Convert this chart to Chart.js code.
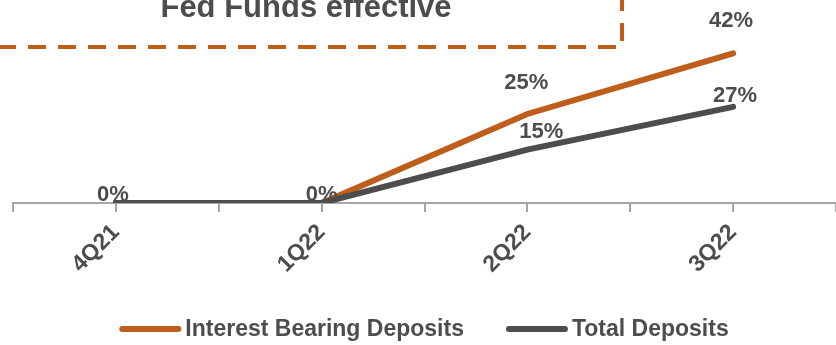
<!DOCTYPE html>
<html>
<head>
<meta charset="utf-8">
<script src="https://cdn.jsdelivr.net/npm/chart.js@4/dist/chart.umd.min.js"></script>
<style>
  html, body { margin: 0; padding: 0; background: #fff; }
  #wrap { width: 836px; height: 345px; }
</style>
</head>
<body>
<div id="wrap"><canvas id="deposit-chart"></canvas></div>
<script>
// data
var quarters = ["4Q21", "1Q22", "2Q22", "3Q22"];
var interestBearing = [0, 0, 25, 42];
var totalDeposits = [0, 0, 15, 27];
var seriesNames = ["Interest Bearing Deposits", "Total Deposits"];
var calloutText = "Fed Funds effective";

var ORANGE = "#bf5e1b";
var GREY = "#4d4d4f";
var AXIS = "#a6a6a6";
var FONT = "'Liberation Sans', Arial, sans-serif";

// value labels drawn next to the points
var valueLabels = {
    id: "valueLabels",
    afterDatasetsDraw: function (chart, args, opts) {
        var ctx = chart.ctx;
        ctx.save();
        ctx.font = "bold 22px " + FONT;
        ctx.fillStyle = GREY;
        ctx.textAlign = "center";
        ctx.textBaseline = "alphabetic";
        chart.data.datasets.forEach(function (ds, di) {
            var meta = chart.getDatasetMeta(di);
            var place = opts.place[di];
            meta.data.forEach(function (pt, i) {
                var p = place[i];
                if (!p) return;
                ctx.fillText(ds.data[i] + "%", pt.x + p[0], pt.y + p[1]);
            });
        });
        ctx.restore();
    }
};

// legend drawn by hand: the built-in one can't do the small box/text gap
var lineLegend = {
    id: "lineLegend",
    afterDraw: function (chart) {
        var ctx = chart.ctx;
        var boxW = 62, gap = 4, spacing = 42, y = 329;
        ctx.save();
        ctx.font = "bold 23px " + FONT;
        ctx.textBaseline = "middle";
        ctx.textAlign = "left";
        var items = chart.data.datasets.map(function (ds) {
            return { text: ds.label, color: ds.borderColor, w: ctx.measureText(ds.label).width };
        });
        var total = 0;
        items.forEach(function (it, i) {
            total += boxW + gap + it.w + (i > 0 ? spacing : 0);
        });
        var x = (chart.width - total) / 2 + 6;
        items.forEach(function (it) {
            ctx.strokeStyle = it.color;
            ctx.lineWidth = 6;
            ctx.lineCap = "round";
            ctx.beginPath();
            ctx.moveTo(x + 3, y);
            ctx.lineTo(x + boxW - 3, y);
            ctx.stroke();
            ctx.fillStyle = GREY;
            ctx.fillText(it.text, x + boxW + gap, y + 1);
            x += boxW + gap + it.w + spacing;
        });
        ctx.restore();
    }
};

// ticks at the category centres + the dashed "Fed Funds" callout
var extras = {
    id: "extras",
    afterDraw: function (chart) {
        var ctx = chart.ctx;
        var x = chart.scales.x;
        ctx.save();
        ctx.strokeStyle = AXIS;
        ctx.lineWidth = 2;
        for (var i = 0; i < quarters.length; i++) {
            var px = Math.round(x.getPixelForValue(i));
            ctx.beginPath();
            ctx.moveTo(px, x.top);
            ctx.lineTo(px, x.top + 9);
            ctx.stroke();
        }

        ctx.strokeStyle = ORANGE;
        ctx.lineWidth = 4;
        ctx.setLineDash([18, 12]);
        ctx.lineJoin = "round";
        ctx.beginPath();
        ctx.moveTo(-2, 47);
        ctx.lineTo(622, 47);
        ctx.lineTo(622, -23);
        ctx.stroke();
        ctx.setLineDash([]);

        ctx.fillStyle = GREY;
        ctx.font = "bold 31px " + FONT;
        ctx.textAlign = "center";
        ctx.textBaseline = "alphabetic";
        ctx.fillText(calloutText, 306, 17);
        ctx.restore();
    }
};

var ctx = document.getElementById("deposit-chart").getContext("2d");
var chart = new Chart(ctx, {
    type: "line",
    data: {
        labels: quarters,
        datasets: [{
            label: seriesNames[0],
            data: interestBearing,
            borderColor: ORANGE,
            backgroundColor: ORANGE,
            borderWidth: 6,
            borderCapStyle: "round",
            pointRadius: 0,
            tension: 0,
            order: 1
        }, {
            label: seriesNames[1],
            data: totalDeposits,
            borderColor: GREY,
            backgroundColor: GREY,
            borderWidth: 6,
            borderCapStyle: "round",
            pointRadius: 0,
            tension: 0,
            order: 0
        }]
    },
    options: {
        responsive: true,
        maintainAspectRatio: false,
        animation: false,
        layout: { padding: { left: 13, right: 0, top: 0, bottom: 34 } },
        scales: {
            x: {
                type: "category",
                offset: true,
                afterFit: function (scale) { scale.height = 108; },
                grid: {
                    display: true,
                    offset: true,
                    drawOnChartArea: false,
                    drawTicks: true,
                    tickLength: 9,
                    color: AXIS,
                    lineWidth: 2
                },
                border: { display: true, color: AXIS, width: 2 },
                ticks: {
                    color: GREY,
                    font: { family: FONT, size: 23, weight: "bold" },
                    minRotation: 45,
                    maxRotation: 45,
                    padding: 7
                }
            },
            y: {
                display: false,
                min: 0,
                max: 57
            }
        },
        plugins: {
            legend: { display: false },
            tooltip: { enabled: false },
            valueLabels: {
                place: [
                    [null, null, [-1, -25], [-2, -26]],
                    [[-3, -2], [0, -2], [14, -12], [2, -5]]
                ]
            }
        }
    },
    plugins: [valueLabels, lineLegend, extras]
});
</script>
</body>
</html>
